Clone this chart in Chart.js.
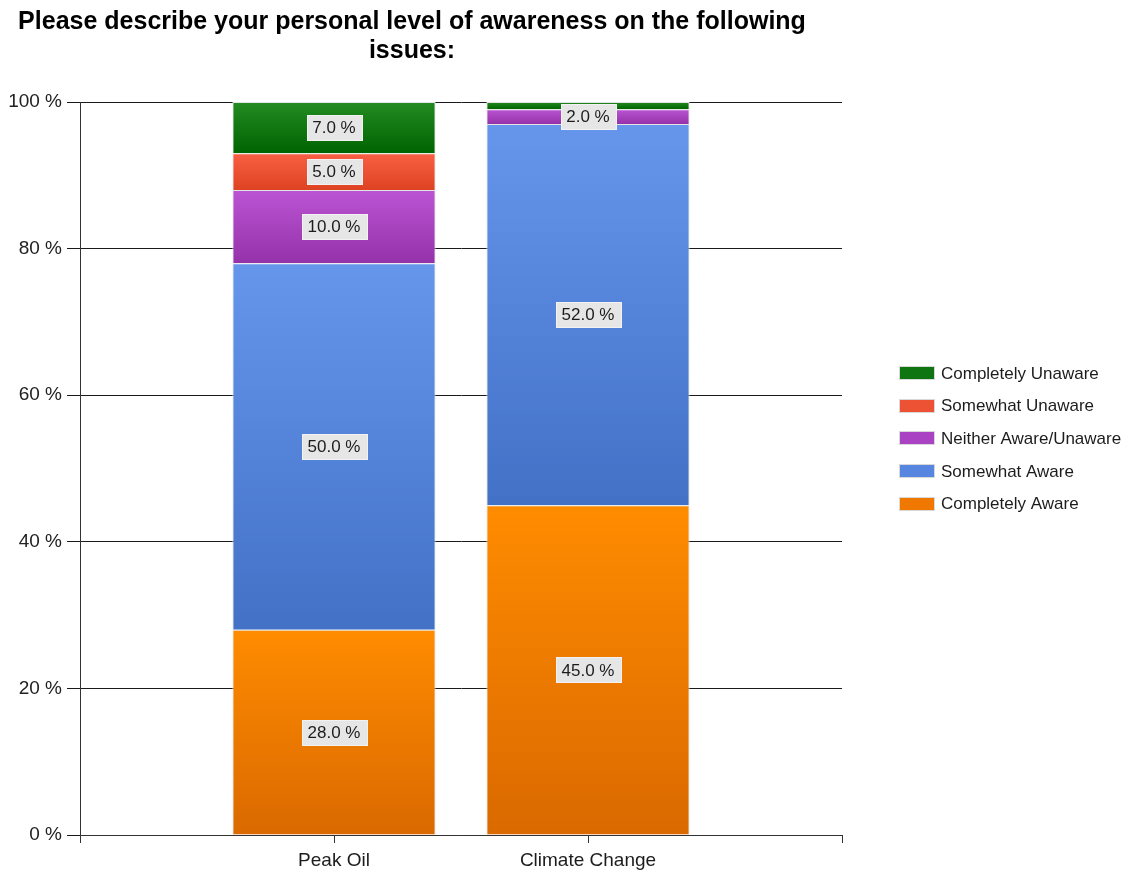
<!DOCTYPE html>
<html>
<head>
<meta charset="utf-8">
<title>Personal awareness</title>
<script src="https://cdn.jsdelivr.net/npm/chart.js@4.4.1/dist/chart.umd.min.js"></script>
<style>
  html, body { margin: 0; padding: 0; background: #fff; }
  #wrap { width: 1130px; height: 871px; }
</style>
</head>
<body>
<div id="wrap"><canvas id="awarenessChart"></canvas></div>
<script>
// Share of respondents (%) per issue
const issues = ['Peak Oil', 'Climate Change'];
const completelyAware = [28, 45];
const somewhatAware = [50, 52];
const neitherAware = [10, 2];
const somewhatUnaware = [5, 0];
const completelyUnaware = [7, 1];
const yTickValues = [0, 20, 40, 60, 80, 100];

const seriesNames = ['Completely Aware', 'Somewhat Aware', 'Neither Aware/Unaware', 'Somewhat Unaware', 'Completely Unaware'];
const seriesValues = [completelyAware, somewhatAware, neitherAware, somewhatUnaware, completelyUnaware];
const titleLines = ['Please describe your personal level of awareness on the following', 'issues:'];

// top / bottom colours of each segment gradient, legend swatch colour
const palette = [
    { top: '#ff8c00', bottom: '#da6900', swatch: '#f07800' },
    { top: '#6696ec', bottom: '#4271c6', swatch: '#5686e0' },
    { top: '#bb55d4', bottom: '#9531a9', swatch: '#a943c4' },
    { top: '#fa5f44', bottom: '#dd4322', swatch: '#ee5235' },
    { top: '#238b22', bottom: '#006400', swatch: '#0f7510' }
];

const FONT = '"Liberation Sans", Arial, sans-serif';

// vertical gradient for one stacked segment
function segmentFill(d) {
    return ctx => {
        const chart = ctx.chart;
        const y = chart.scales.y;
        if (ctx.type !== 'data' || !chart.chartArea || !y) return palette[d].top;
        const i = ctx.dataIndex;
        let base = 0;
        for (let k = 0; k < d; k++) base += seriesValues[k][i];
        const top = base + seriesValues[d][i];
        const y0 = y.getPixelForValue(top);
        const y1 = y.getPixelForValue(base);
        if (!isFinite(y0) || !isFinite(y1) || y0 === y1) return palette[d].top;
        const g = chart.ctx.createLinearGradient(0, y0, 0, y1);
        g.addColorStop(0, palette[d].top);
        g.addColorStop(1, palette[d].bottom);
        return g;
    };
}

// value boxes in the middle of each segment
const valueLabels = {
    id: 'valueLabels',
    afterDatasetsDraw(chart) {
        const ctx = chart.ctx;
        ctx.save();
        ctx.font = '17px ' + FONT;
        ctx.textAlign = 'center';
        ctx.textBaseline = 'middle';
        chart.data.datasets.forEach((ds, d) => {
            const meta = chart.getDatasetMeta(d);
            meta.data.forEach((bar, i) => {
                const v = seriesValues[d][i];
                if (v < 2) return;
                const p = bar.getProps(['x', 'y', 'base'], true);
                const cy = (p.y + p.base) / 2;
                const text = v.toFixed(1) + ' %';
                const w = Math.round(ctx.measureText(text).width + 12);
                const h = 25;
                const bx = Math.round(p.x - w / 2) + 0.5;
                const by = Math.round(cy - h / 2) + 0.5;
                ctx.fillStyle = '#e6e6e6';
                ctx.fillRect(bx, by, w, h);
                ctx.strokeStyle = '#f2f2f2';
                ctx.lineWidth = 1;
                ctx.strokeRect(bx, by, w, h);
                ctx.fillStyle = '#1c1c1c';
                ctx.fillText(text, p.x, cy + 1);
            });
        });
        ctx.restore();
    }
};

// two-line bold title and the legend on the right
const titleAndLegend = {
    id: 'titleAndLegend',
    afterDraw(chart) {
        const ctx = chart.ctx;
        ctx.save();
        ctx.fillStyle = '#000';
        ctx.font = 'bold 25px ' + FONT;
        ctx.textAlign = 'center';
        ctx.textBaseline = 'middle';
        titleLines.forEach((line, n) => ctx.fillText(line, 412, 22 + n * 29));

        ctx.font = '17px ' + FONT;
        ctx.textAlign = 'left';
        const order = [4, 3, 2, 1, 0];
        order.forEach((d, n) => {
            const cy = 373 + n * 32.7;
            ctx.fillStyle = palette[d].swatch;
            ctx.fillRect(900, Math.round(cy - 6), 34, 12);
            ctx.strokeStyle = '#d8d8d8';
            ctx.lineWidth = 1;
            ctx.strokeRect(899.5, Math.round(cy - 6) - 0.5, 35, 13);
            ctx.fillStyle = '#1c1c1c';
            ctx.fillText(seriesNames[d], 941, cy + 1);
        });
        ctx.restore();
    }
};

const datasets = seriesNames.map((name, d) => ({
    label: name,
    data: issues.map((c, i) => ({ x: i + 1, y: seriesValues[d][i] })),
    backgroundColor: segmentFill(d),
    borderColor: '#e4e4e4',
    borderWidth: 1,
    categoryPercentage: 0.8,
    barPercentage: 1
}));

new Chart(document.getElementById('awarenessChart'), {
    type: 'bar',
    data: { datasets },
    plugins: [valueLabels, titleAndLegend],
    options: {
        responsive: true,
        maintainAspectRatio: false,
        animation: false,
        layout: { padding: { left: 0, right: 288, top: 102, bottom: 0 } },
        plugins: {
            legend: { display: false },
            title: { display: false },
            tooltip: { enabled: false }
        },
        scales: {
            x: {
                type: 'linear',
                stacked: true,
                offset: false,
                min: 0,
                max: issues.length + 1,
                afterBuildTicks: axis => {
                    const vals = [0].concat(issues.map((c, i) => i + 1), [issues.length + 1]);
                    axis.ticks = vals.map(v => ({ value: v }));
                },
                afterFit: axis => { axis.height = 36; },
                ticks: {
                    autoSkip: false,
                    maxRotation: 0,
                    padding: 6,
                    color: '#1c1c1c',
                    font: { family: FONT, size: 19 },
                    callback: v => issues[v - 1] || ''
                },
                grid: { offset: false, drawOnChartArea: false, drawTicks: true, tickLength: 8, color: '#333', lineWidth: 1 },
                border: { display: true, color: '#333', width: 1 }
            },
            y: {
                stacked: true,
                min: 0,
                max: 100,
                afterBuildTicks: axis => { axis.ticks = yTickValues.map(v => ({ value: v })); },
                afterFit: axis => { axis.width = 80; },
                ticks: {
                    padding: 5,
                    color: '#222',
                    font: { family: FONT, size: 19 },
                    callback: v => v + ' %'
                },
                grid: { color: '#1a1a1a', lineWidth: 1, tickLength: 13 },
                border: { display: true, color: '#333', width: 1 }
            }
        }
    }
});
</script>
</body>
</html>
